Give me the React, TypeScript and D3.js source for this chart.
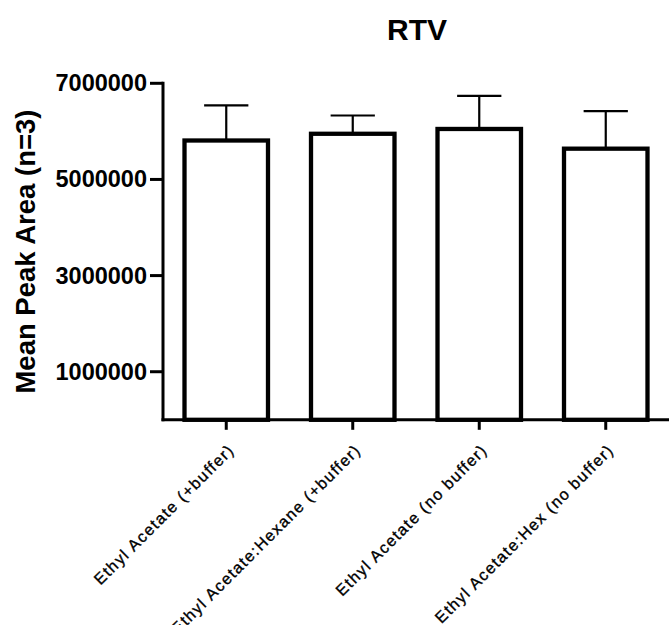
import React from "react";
import * as d3 from "d3";

const categories = [
  "Ethyl Acetate (+buffer)",
  "Ethyl Acetate:Hexane (+buffer)",
  "Ethyl Acetate (no buffer)",
  "Ethyl Acetate:Hex (no buffer)",
];
const means = [5810000, 5950000, 6050000, 5640000];
const errors = [730000, 380000, 690000, 780000];
const yTicks = [1000000, 3000000, 5000000, 7000000];
const title = "RTV";
const yLabel = "Mean Peak Area (n=3)";

const W = 669;
const H = 625;
const left = 163;
const right = 669;
const top = 83.3;
const bottom = 419.8;
const font = "'Liberation Sans', Arial, sans-serif";

export default function App() {
  const x = d3.scaleBand<string>().domain(categories).range([left, right]).paddingInner(0.34).paddingOuter(0.17);
  const y = d3.scaleLinear().domain([0, 7000000]).range([bottom, top]);
  const bw = x.bandwidth();
  const capHalf = bw * 0.265;

  return (
    <svg width={W} height={H} style={{ position: "absolute", left: 0, top: 0, background: "#fff" }}>
      <rect x={0} y={0} width={W} height={H} fill="#fff" />
      <text x={417} y={39.5} textAnchor="middle" fontFamily={font} fontWeight="bold" fontSize={30}>
        {title}
      </text>
      <text
        transform={`translate(35,${(top + bottom) / 2}) rotate(-90)`}
        textAnchor="middle"
        fontFamily={font}
        fontWeight="bold"
        fontSize={27.5}
      >
        {yLabel}
      </text>

      {/* bars */}
      {categories.map((c, i) => {
        const x0 = x(c)!;
        const cx = x0 + bw / 2;
        const yt = y(means[i]);
        const ye = y(means[i] + errors[i]);
        return (
          <g key={c}>
            <line x1={cx} x2={cx} y1={yt} y2={ye} stroke="#000" strokeWidth={2.2} />
            <line x1={cx - capHalf} x2={cx + capHalf} y1={ye} y2={ye} stroke="#000" strokeWidth={2.2} />
            <rect x={x0} y={yt} width={bw} height={bottom - yt} fill="#fff" stroke="#000" strokeWidth={4.3} />
          </g>
        );
      })}

      {/* y axis */}
      <line x1={left} x2={left} y1={top - 1.5} y2={bottom + 1.5} stroke="#000" strokeWidth={3} />
      {yTicks.map((t) => (
        <g key={t}>
          <line x1={150} x2={left} y1={y(t)} y2={y(t)} stroke="#000" strokeWidth={3} />
          <text
            x={147}
            y={y(t)}
            textAnchor="end"
            dominantBaseline="central"
            fontFamily={font}
            fontWeight="bold"
            fontSize={23.5}
          >
            {t}
          </text>
        </g>
      ))}

      {/* x axis */}
      <line x1={left - 1.5} x2={right} y1={bottom} y2={bottom} stroke="#000" strokeWidth={3} />
      {categories.map((c) => {
        const cx = x(c)! + bw / 2;
        return (
          <g key={"t" + c}>
            <line x1={cx} x2={cx} y1={bottom} y2={bottom + 10} stroke="#000" strokeWidth={3} />
            <text
              transform={`translate(${cx + 9},451) rotate(-45)`}
              textAnchor="end"
              fontFamily={font}
              fontSize={16}
              letterSpacing={1.4}
              stroke="#000"
              strokeWidth={0.35}
            >
              {c}
            </text>
          </g>
        );
      })}
    </svg>
  );
}
